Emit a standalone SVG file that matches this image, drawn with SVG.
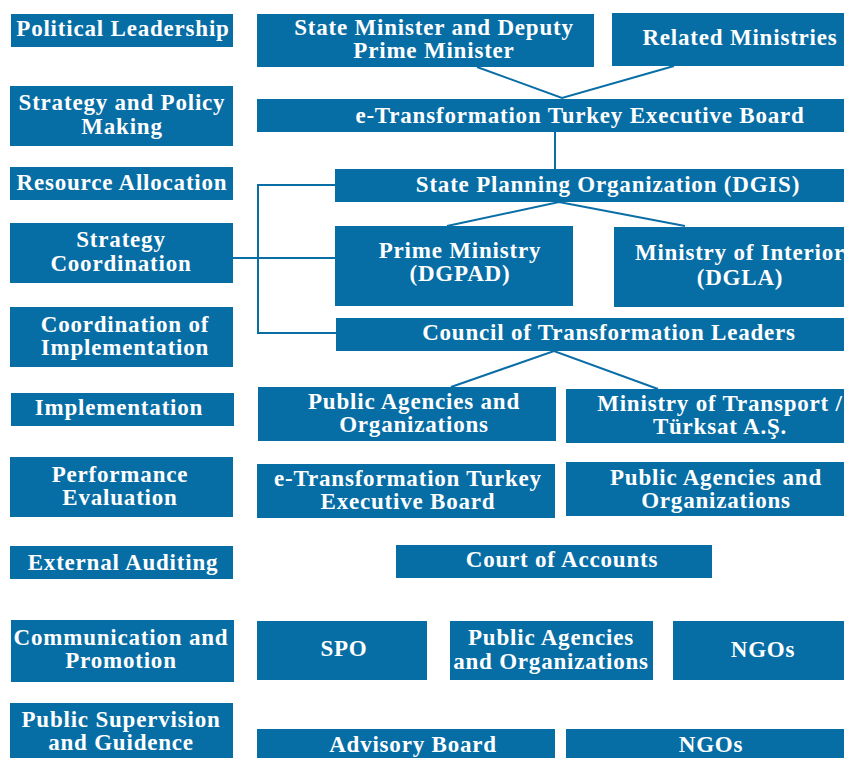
<svg xmlns="http://www.w3.org/2000/svg" width="844" height="758" viewBox="0 0 844 758">
<style>
.b{fill:#066da5}
.t{font-family:"Liberation Serif","Times New Roman",serif;font-weight:bold;font-size:23px;letter-spacing:0.8px;fill:#fff;text-anchor:middle}
.c{stroke:#0a6ea6;stroke-width:2;fill:none}
</style>
<rect width="844" height="758" fill="#fff"/>
<g id="connectors">
<path class="c" d="M477 67 L562 98 L674 66"/>
<path class="c" d="M555 132 V169"/>
<path class="c" d="M335 185 H258 V333 H336"/>
<path class="c" d="M233 258 H335"/>
<path class="c" d="M447 226 L559 202 L685 226"/>
<path class="c" d="M451 387 L554 351 L658 389"/>
</g>
<g id="l-political"><rect class="b" x="11" y="14" width="222" height="33"/><text class="t" x="123" y="36">Political Leadership</text></g>
<g id="l-strategy"><rect class="b" x="10" y="86" width="223" height="60"/><text class="t" x="122" y="110">Strategy and Policy</text><text class="t" x="122" y="134">Making</text></g>
<g id="l-resource"><rect class="b" x="10" y="167" width="223" height="33"/><text class="t" x="122" y="190">Resource Allocation</text></g>
<g id="l-stratcoord"><rect class="b" x="10" y="223" width="223" height="60"/><text class="t" x="121" y="247">Strategy</text><text class="t" x="121" y="271">Coordination</text></g>
<g id="l-coordimpl"><rect class="b" x="10" y="307" width="223" height="60"/><text class="t" x="125" y="332">Coordination of</text><text class="t" x="125" y="355">Implementation</text></g>
<g id="l-impl"><rect class="b" x="11" y="393" width="223" height="33"/><text class="t" x="119" y="415">Implementation</text></g>
<g id="l-perf"><rect class="b" x="10" y="457" width="223" height="60"/><text class="t" x="120" y="482">Performance</text><text class="t" x="120" y="505">Evaluation</text></g>
<g id="l-audit"><rect class="b" x="10" y="546" width="223" height="33"/><text class="t" x="123" y="570">External Auditing</text></g>
<g id="l-comm"><rect class="b" x="11" y="620" width="223" height="62"/><text class="t" x="121" y="645">Communication and</text><text class="t" x="121" y="668">Promotion</text></g>
<g id="l-public"><rect class="b" x="10" y="703" width="223" height="55"/><text class="t" x="121" y="727">Public Supervision</text><text class="t" x="121" y="750">and Guidence</text></g>

<g id="n-stateminister"><rect class="b" x="257" y="14" width="337" height="53"/><text class="t" x="434" y="35">State Minister and Deputy</text><text class="t" x="434" y="58">Prime Minister</text></g>
<g id="n-related"><rect class="b" x="612" y="13" width="232" height="53"/><text class="t" x="740" y="45">Related Ministries</text></g>
<g id="n-etboard"><rect class="b" x="257" y="99" width="587" height="33"/><text class="t" x="580" y="123">e-Transformation Turkey Executive Board</text></g>
<g id="n-spo"><rect class="b" x="335" y="169" width="509" height="33"/><text class="t" x="608" y="192">State Planning Organization (DGIS)</text></g>
<g id="n-primeministry"><rect class="b" x="335" y="226" width="238" height="80"/><text class="t" x="460" y="258">Prime Ministry</text><text class="t" x="460" y="281">(DGPAD)</text></g>
<g id="n-interior"><rect class="b" x="614" y="227" width="230" height="80"/><text class="t" x="740" y="260">Ministry of Interior</text><text class="t" x="740" y="285">(DGLA)</text></g>
<g id="n-council"><rect class="b" x="336" y="318" width="508" height="33"/><text class="t" x="609" y="340">Council of Transformation Leaders</text></g>
<g id="n-publicag1"><rect class="b" x="258" y="387" width="298" height="54"/><text class="t" x="414" y="409">Public Agencies and</text><text class="t" x="414" y="432">Organizations</text></g>
<g id="n-transport"><rect class="b" x="566" y="389" width="278" height="54"/><text class="t" x="720" y="411">Ministry of Transport /</text><text class="t" x="720" y="434">Türksat A.Ş.</text></g>
<g id="n-etboard2"><rect class="b" x="257" y="464" width="298" height="54"/><text class="t" x="408" y="486">e-Transformation Turkey</text><text class="t" x="408" y="509">Executive Board</text></g>
<g id="n-publicag2"><rect class="b" x="566" y="462" width="278" height="54"/><text class="t" x="716" y="485">Public Agencies and</text><text class="t" x="716" y="508">Organizations</text></g>
<g id="n-court"><rect class="b" x="396" y="545" width="316" height="33"/><text class="t" x="562" y="567">Court of Accounts</text></g>
<g id="n-spo2"><rect class="b" x="257" y="621" width="170" height="59"/><text class="t" x="344" y="656">SPO</text></g>
<g id="n-publicag3"><rect class="b" x="450" y="621" width="203" height="59"/><text class="t" x="551" y="645">Public Agencies</text><text class="t" x="551" y="669">and Organizations</text></g>
<g id="n-ngos1"><rect class="b" x="673" y="621" width="171" height="59"/><text class="t" x="763" y="657">NGOs</text></g>
<g id="n-advisory"><rect class="b" x="257" y="729" width="298" height="29"/><text class="t" x="413" y="752">Advisory Board</text></g>
<g id="n-ngos2"><rect class="b" x="566" y="729" width="278" height="29"/><text class="t" x="711" y="752">NGOs</text></g>
</svg>
